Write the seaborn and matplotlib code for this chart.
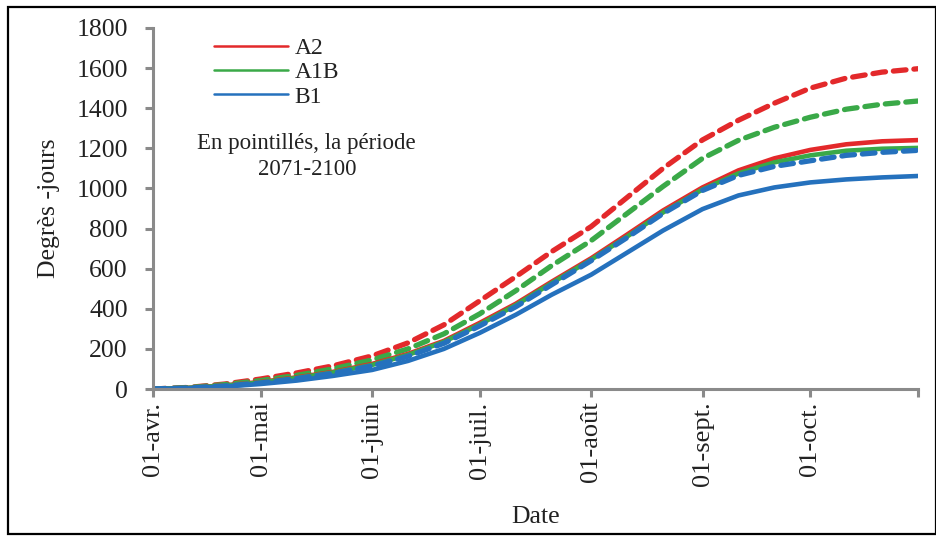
import numpy as np
import pandas as pd
import matplotlib
matplotlib.use("Agg")
import matplotlib.pyplot as plt
import seaborn as sns
from matplotlib.lines import Line2D
from matplotlib.patches import Rectangle

# ---- data (days since 1 April) ----
days = [0, 10, 20, 30, 40, 50, 61, 71, 81, 91, 101, 111, 122, 132, 142, 153, 163, 173, 183, 193, 203, 213]
a2_future = [0, 8, 25, 50, 80, 115, 165, 230, 320, 440, 560, 685, 810, 955, 1100, 1242, 1340, 1425, 1500, 1550, 1580, 1597]
a1b_future = [0, 7, 22, 42, 68, 100, 145, 200, 275, 375, 490, 615, 740, 875, 1010, 1150, 1240, 1305, 1355, 1395, 1420, 1436]
a2_ref = [0, 6, 18, 35, 58, 85, 125, 175, 240, 330, 425, 535, 652, 770, 890, 1005, 1090, 1150, 1192, 1220, 1235, 1241]
a1b_ref = [0, 6, 17, 33, 55, 82, 120, 170, 235, 322, 418, 528, 645, 760, 880, 995, 1075, 1130, 1165, 1188, 1198, 1202]
b1_future = [0, 5, 15, 30, 52, 78, 115, 163, 228, 315, 410, 520, 640, 755, 875, 990, 1065, 1110, 1138, 1165, 1180, 1190]
b1_ref = [0, 4, 12, 25, 42, 65, 95, 140, 200, 280, 370, 470, 570, 680, 790, 897, 965, 1005, 1030, 1045, 1055, 1062]

tick_days = [0, 30, 61, 91, 122, 153, 183, 213]
tick_labels = ["01-avr.", "01-mai", "01-juin", "01-juil.", "01-août", "01-sept.", "01-oct.", ""]
y_ticks = list(range(0, 1801, 200))

scenarios = ["A2", "A1B", "B1"]
colors = {"A2": "#e3292b", "A1B": "#3aa948", "B1": "#2571bd"}

sns.set_theme(style="white")
plt.rcParams["font.family"] = ["Liberation Serif", "DejaVu Serif"]

fig = plt.figure(figsize=(9.37, 5.36), dpi=100)
ax = fig.add_axes([153/937, 1-389/536, (918-153)/937, (389-28)/536])

series = [
    ("A2", "future", a2_future),
    ("A1B", "future", a1b_future),
    ("A2", "ref", a2_ref),
    ("A1B", "ref", a1b_ref),
    ("B1", "future", b1_future),
    ("B1", "ref", b1_ref),
]
for scen, per, vals in series:
    df = pd.DataFrame({"day": days, "val": vals})
    if per == "future":
        sns.lineplot(data=df, x="day", y="val", ax=ax, color=colors[scen], lw=3.8,
                     legend=False)
        ax.lines[-1].set_dashes((2.4, 1.5))
        ax.lines[-1].set_dash_capstyle("round")
    else:
        sns.lineplot(data=df, x="day", y="val", ax=ax, color=colors[scen], lw=3.3,
                     legend=False)

ax.set_xlim(0, 213)
ax.set_ylim(0, 1800)
ax.set_xticks(tick_days)
ax.set_xticklabels(tick_labels, rotation=90, fontsize=19, color="#222222")
ax.set_yticks(y_ticks)
ax.set_yticklabels([str(v) for v in y_ticks], fontsize=18.5, color="#222222")
for s in ["top", "right"]:
    ax.spines[s].set_visible(False)
for s in ["left", "bottom"]:
    ax.spines[s].set_color("#8a8a8a")
    ax.spines[s].set_linewidth(2.2)
ax.tick_params(axis="both", which="both", direction="out", length=6, width=2.2,
               color="#8a8a8a", bottom=True, left=True)
ax.tick_params(axis="y", pad=12)
ax.tick_params(axis="x", pad=3)
ax.set_xlabel("Date", fontsize=18.5, color="#222222", labelpad=14)
ax.set_ylabel("Degrès -jours", fontsize=18.5, color="#222222", labelpad=12)
ax.grid(False)

handles = [Line2D([0], [0], color=colors[s], lw=1.8) for s in scenarios]
leg = ax.legend(handles, scenarios, loc="upper left", bbox_to_anchor=(0.068, 1.0),
                frameon=False, fontsize=17, handlelength=3.1, handletextpad=0.3,
                labelspacing=0.12, borderaxespad=0)
for t in leg.get_texts():
    t.set_color("#222222")

ax.text(0.201, 0.643, "En pointillés, la période\n2071-2100", transform=ax.transAxes,
        ha="center", va="center", fontsize=16.5, color="#222222", linespacing=1.3)

fig.patches.append(Rectangle((8/937, 2/536), 928/937, 527/536, transform=fig.transFigure,
                             fill=False, edgecolor="black", lw=1.6))

fig.savefig("out.png", dpi=100)
